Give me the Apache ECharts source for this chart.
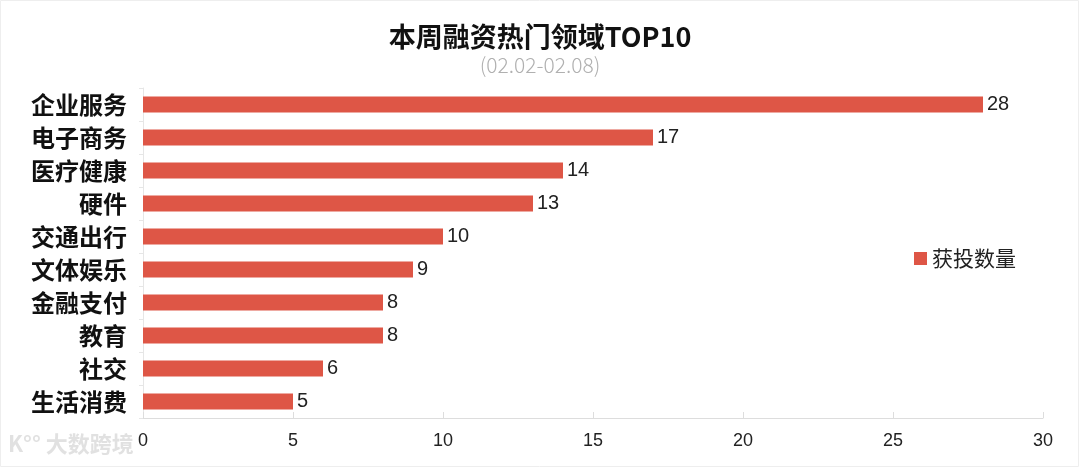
<!DOCTYPE html>
<html><head><meta charset="utf-8">
<script src="https://cdn.jsdelivr.net/npm/echarts@6/dist/echarts.min.js"></script>
<style>html,body{margin:0;padding:0;background:#fff}#c{width:1080px;height:468px}</style>
</head><body><div id="c"></div>
<script>
const categories = ['企业服务','电子商务','医疗健康','硬件','交通出行','文体娱乐','金融支付','教育','社交','生活消费'];
const values = [28,17,14,13,10,9,8,8,6,5];
const seriesName = '获投数量';
const titleText = '本周融资热门领域TOP10';
const subtitleText = '(02.02-02.08)';
const watermark = '大数跨境';

const cjk = '"Noto Sans CJK SC", "Liberation Sans", sans-serif';
const chart = echarts.init(document.getElementById('c'), null, {renderer:'canvas'});
chart.setOption({
  backgroundColor:'#fff',
  animation:false,
  title:{
    text:titleText, subtext:subtitleText,
    left:'center', top:18, itemGap:5,
    textStyle:{fontFamily:cjk,fontSize:27,fontWeight:'bold',color:'#111'},
    subtextStyle:{fontFamily:cjk,fontSize:21,fontWeight:300,color:'#b0b0b0'}
  },
  legend:{
    data:[seriesName], left:909, top:243, itemWidth:13, itemHeight:13, itemGap:10, icon:'rect',
    textStyle:{fontFamily:cjk,fontSize:21,color:'#222'}
  },
  grid:{left:143, right:37, top:88, bottom:50, containLabel:false},
  xAxis:{
    type:'value', min:0, max:30, interval:5,
    splitLine:{show:false},
    axisLine:{show:true,lineStyle:{color:'#ddd'}},
    axisTick:{show:true,inside:true,length:6,lineStyle:{color:'#ddd'}},
    axisLabel:{fontFamily:'"Liberation Sans", sans-serif',fontSize:18,color:'#222',margin:14}
  },
  yAxis:{
    type:'category', data:categories, inverse:true,
    axisLine:{show:true,lineStyle:{color:'#e6e6e6'}},
    axisTick:{show:true,length:4,lineStyle:{color:'#e6e6e6'}},
    axisLabel:{fontFamily:cjk,fontSize:24,fontWeight:'bold',color:'#111',margin:16}
  },
  series:[{
    name:seriesName, type:'bar', data:values, barWidth:16,
    itemStyle:{color:'#DE5646'},
    label:{show:true,position:'right',distance:4,fontFamily:'"Liberation Sans", sans-serif',fontSize:20,color:'#222'}
  }],
  graphic:[
    {type:'text',left:8,top:433,style:{text:'K°° '+watermark,font:'bold 22px "Noto Sans CJK SC", sans-serif',fill:'rgba(200,200,200,0.55)'}},
    {type:'rect',shape:{x:0.5,y:0.5,width:1078,height:466},style:{fill:'none',stroke:'#eee',lineWidth:1}}
  ]
});
</script></body></html>
